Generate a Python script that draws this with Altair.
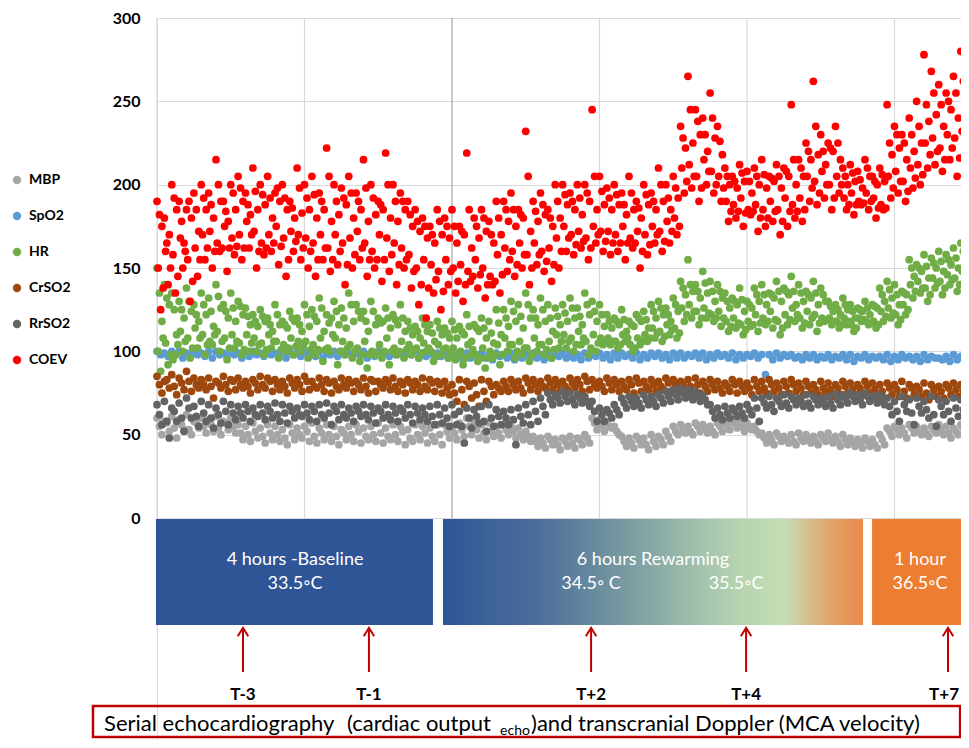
import altair as alt
import pandas as pd

SERIES = ["MBP", "SpO2", "HR", "CrSO2", "RrSO2", "COEV"]
COLORS = ["#a5a5a5", "#5b9bd5", "#70ad47", "#9e480e", "#636363", "#ff0000"]
STEP = 50  # samples between two readings of one list

# ---------------- readings ----------------
mbp_a = [60,58,61,59,62,58,60,59,61,58,60,
         56,55,57,54,56,55,53,56,54,55,57,54,56,55,53,55,56,54,55,57,54,56,55,53,56,55,54,56,
         56,55,57,60,58,56,57,55,
         56,55,54,52,
         49,48,49,47,48,49,48,50,
         60,59,58,55,
         49,48,49,48,50,49,52,
         55,56,55,57,56,55,57,
         58,59,58,57,55,
         51,50,51,49,50,51,50,49,50,51,49,50,48,
         47,48,47,50,
         54,55,54,56,55,54,55,56,55,54,56]
mbp_b = [50,52,48,53,50,54,51,52,50,53,51,
         47,46,48,45,47,46,44,47,48,46,45,47,46,44,47,46,45,47,46,45,47,46,44,46,47,45,46,44,
         48,47,49,50,48,47,49,48,
         50,48,47,46,
         43,42,44,41,43,42,44,45,
         53,52,54,50,
         43,42,44,41,43,44,46,
         50,51,50,52,51,50,52,
         53,54,52,53,50,
         45,44,46,45,44,46,45,44,46,45,43,44,43,
         42,43,42,44,
         49,50,48,51,50,49,51,50,48,50,51]
mbp_c = [55,57,54,56,53,57,55,56,54,57,55,
         51,50,52,49,51,50,48,51,50,52,49,51,50,49,51,50,52,49,50,51,49,50,52,48,50,51,49,50,
         52,51,53,55,53,51,52,51,
         53,52,50,49,
         46,45,47,44,46,45,47,48,
         57,56,55,52,
         46,45,47,44,46,47,49,
         52,53,52,55,54,52,55,
         56,57,55,55,52,
         48,47,49,47,46,48,47,46,48,47,46,47,46,
         45,46,44,47,
         52,53,51,54,52,51,53,53,51,52,54]

spo2_a = [100,99,100,100,99,100,99,100,100,99,100,99,100,100,99,100,99,100,100,99,
          100,99,100,99,100,100,99,99,100,99,100,99,100,99,99,100,99,100,99,
          99,98,99,99,98,99,98,99,98,99,99,98,99,98,99,98,99,99,98,99,
          98,99,98,99,99,98,99,98,99,99,98,99,
          99,98,99,99,98,99,98,99,98,98,99,98,98,99,98,98,97,98,98,97,
          98,97,98,98,97,98,97,97,98,97,98,97,97,98,97,96,97,98,97]
spo2_b = [98,97,98,96,97,98,97,96,98,97,98,96,97,98,97,98,97,96,98,97,
          98,97,96,98,97,98,97,98,96,97,98,97,98,97,98,96,97,98,97,
          96,97,95,96,97,96,95,97,96,95,96,97,96,95,96,97,96,96,95,96,
          97,96,95,96,97,96,95,96,97,96,95,96,
          96,97,96,95,96,97,96,95,96,97,96,86,95,96,97,96,95,96,95,96,
          95,96,95,94,96,95,96,95,94,95,96,95,94,95,96,95,94,95,96]

hr_a = [150,140,135,
        130,138,128,135,132,140,128,135,130,126,
        122,125,120,128,118,124,120,
        128,125,132,122,130,126,135,128,124,130,120,126,122,128,
        118,115,120,116,118,114,
        118,115,122,116,120,118,125,
        125,130,128,135,125,132,128,126,
        128,132,126,135,130,128,
        122,120,125,118,122,124,
        128,130,126,132,
        142,155,140,148,142,140,
        135,132,138,130,
        138,140,135,142,138,145,140,136,142,138,
        130,128,132,128,126,130,128,
        138,142,140,136,
        155,152,158,156,160,158,162,165]
hr_b = [118,128,110,
        120,124,118,122,115,126,120,118,122,116,
        115,118,112,116,114,118,112,
        115,118,112,120,116,114,118,120,112,116,118,114,116,112,
        110,108,112,106,110,108,
        108,110,106,112,108,105,110,
        115,118,114,120,116,118,112,116,
        118,120,116,122,118,115,
        114,116,112,115,118,114,
        120,122,118,124,
        134,136,132,135,130,132,
        126,128,124,126,
        130,128,132,130,134,128,130,132,128,130,
        124,122,125,120,124,122,126,
        130,132,128,134,
        145,148,144,150,148,152,150,155]
hr_c = [100,105,95,
        112,108,114,110,106,112,108,110,105,110,
        108,105,110,106,104,108,106,
        106,104,108,102,108,106,104,102,106,100,104,108,102,106,
        104,102,105,100,104,102,
        102,100,104,98,102,100,104,
        108,104,106,102,108,104,106,110,
        110,108,112,106,110,108,
        108,106,110,104,108,110,
        114,112,116,114,
        126,128,124,126,122,124,
        118,120,116,118,
        122,120,124,118,122,126,120,124,122,120,
        120,118,120,116,120,118,118,
        124,126,122,128,
        140,142,138,144,142,146,144,148]
hr_d = [88,92,98,
        100,96,102,98,104,100,95,102,98,100,
        100,98,102,96,100,98,100,
        96,98,94,100,92,98,96,94,90,98,96,92,98,96,
        98,96,100,94,98,96,
        95,92,98,94,90,96,92,
        100,96,98,94,100,98,96,102,
        102,100,104,98,100,104,
        104,102,106,100,104,106,
        108,106,110,108,
        118,120,116,120,118,115,
        112,114,110,115,
        112,116,114,110,116,118,114,116,112,118,
        116,114,116,112,118,116,114,
        118,120,116,122,
        132,135,130,138,134,140,136,142]
hr_e = [135,132,125,
        125,130,122,128,124,133,124,126,127,121,
        118,121,116,122,116,120,116,
        122,121,126,117,124,120,128,124,118,124,117,120,119,120,
        114,112,116,111,114,111,
        113,112,115,114,114,111,117,
        120,124,121,128,120,125,120,121,
        123,126,121,128,124,122,
        118,118,119,116,120,119,
        124,126,122,128,
        138,140,136,141,136,136,
        130,130,131,128,
        134,134,134,136,136,136,135,134,135,134,
        127,125,128,124,125,126,127,
        134,137,134,135,
        150,150,151,153,154,155,156,160]
hr_f = [108,98,104,
        106,102,108,104,110,106,102,106,101,105,
        104,101,106,101,102,103,103,
        101,101,101,110,100,102,100,98,98,99,100,100,100,101,
        101,99,102,97,101,99,
        98,96,101,96,96,98,98,
        104,100,102,98,104,101,101,106,
        106,104,108,102,105,106,
        106,104,108,102,106,108,
        111,109,113,111,
        122,124,120,123,120,120,
        115,117,113,116,
        117,118,119,114,119,122,117,120,117,119,
        118,116,118,114,119,117,116,
        121,123,119,125,
        136,138,134,141,138,143,140,145]

crso2_a = [85,82,86,84,88,84,
           83,84,82,85,83,84,82,83,85,84,83,82,84,83,85,82,84,83,82,84,
           83,82,84,83,82,83,84,82,83,82,84,83,82,
           82,80,83,82,81,83,82,80,
           82,83,82,84,83,82,84,83,82,84,83,85,83,82,84,83,82,83,84,82,83,82,84,83,
           82,83,84,82,83,82,81,83,82,81,83,82,83,81,82,83,81,82,80,82,
           81,80,82,81,80,82,81,80,81,80,82,80,79,81,80,79,80,81,80]
crso2_b = [75,78,74,77,76,78,
           77,72,78,76,77,78,75,77,78,76,77,75,78,76,77,78,76,75,77,78,
           76,77,75,76,78,77,76,75,77,76,77,76,75,
           74,70,68,72,67,70,74,76,
           76,77,75,77,76,78,77,76,77,78,76,77,78,76,77,76,77,75,76,77,76,77,76,75,
           77,76,75,76,77,75,76,75,76,74,76,75,76,74,75,76,74,75,74,75,
           73,74,75,73,74,75,73,72,74,73,72,74,73,71,73,72,74,73,72]
crso2_c = [80,83,79,81,82,80,
           80,79,81,80,82,80,79,81,80,82,80,79,81,80,82,79,80,81,79,80,
           81,80,79,82,80,81,79,80,81,80,79,81,80,
           78,75,77,79,74,76,79,78,
           79,80,78,81,80,79,81,80,79,81,80,82,80,79,81,80,79,80,81,79,80,79,81,80,
           80,79,80,79,80,78,79,80,79,78,79,78,80,78,79,80,78,79,77,78,
           77,78,79,77,78,79,77,76,78,77,76,78,77,75,77,76,78,77,76]

rrso2_a = [68,70,66,69,72,67,70,68,66,70,68,
           67,68,66,68,67,69,68,67,66,68,67,68,69,67,68,66,67,68,67,66,68,67,66,68,67,66,67,68,
           66,68,64,66,65,67,68,65,
           64,65,66,68,70,72,
           75,74,76,75,74,73,70,
           66,65,68,
           72,73,72,74,73,74,76,
           77,78,77,76,74,
           68,66,67,66,67,68,72,
           72,73,72,74,73,72,74,73,72,73,74,
           74,75,74,75,73,74,
           72,70,73,71,72,70,73,71,70,72,71]
rrso2_b = [56,48,58,52,60,55,58,54,57,56,59,
           60,58,61,59,60,58,57,60,61,59,58,60,56,59,60,58,61,59,57,60,59,58,60,57,59,58,56,57,
           55,56,45,54,57,52,55,56,
           56,44,57,56,58,62,
           68,69,70,68,69,67,58,
           58,60,62,
           66,67,66,68,67,69,70,
           71,72,71,70,68,
           60,59,60,61,60,62,58,
           66,64,67,66,68,67,66,68,67,66,68,
           69,70,68,70,69,68,
           62,58,64,56,63,60,55,62,58,61,60]
rrso2_c = [62,58,64,60,66,61,63,60,62,64,63,
           63,64,62,63,64,62,63,64,62,63,64,62,63,64,62,63,64,62,63,64,62,63,64,62,63,62,61,62,
           60,62,55,60,61,58,60,61,
           60,59,61,62,64,67,
           71,72,73,71,72,70,64,
           62,63,65,
           69,70,69,71,70,72,73,
           74,75,74,73,71,
           64,62,63,64,63,65,66,
           69,68,70,69,71,70,69,71,70,69,71,
           72,73,71,73,72,71,
           67,64,68,63,67,65,62,67,64,66,65]

coev_a = [190,180,200,190,185,195,
          200,195,215,190,200,205,195,210,200,205,195,200,190,210,
          200,205,195,222,200,198,205,195,215,200,190,219,200,195,
          190,185,180,175,185,
          180,185,175,219,180,185,178,190,
          190,195,185,232,190,195,185,200,
          200,195,200,200,245,205,
          198,200,195,205,190,200,195,210,200,205,
          235,265,245,240,255,235,
          210,205,212,208,
          210,215,205,212,210,248,215,
          225,262,230,225,235,
          210,212,208,215,205,210,
          248,235,230,240,250,
          278,268,260,255,265,280]
coev_b = [175,170,185,165,180,172,
          185,180,190,178,185,190,182,185,188,180,190,185,180,183,
          185,180,185,178,182,188,180,185,178,182,185,180,178,185,
          175,172,168,165,170,
          168,165,170,162,168,172,165,170,
          178,175,180,172,178,182,175,180,
          188,185,182,190,185,188,
          185,188,182,185,180,188,185,190,185,192,
          222,225,230,220,228,218,
          200,198,202,195,
          200,198,202,198,205,200,205,
          215,218,212,220,215,
          200,202,198,205,200,202,
          218,222,215,220,225,
          238,242,235,245,240,248]
coev_c = [150,160,158,168,155,162,
          170,172,165,175,168,170,178,172,165,170,175,168,172,170,
          168,165,170,162,170,165,168,172,165,160,170,168,165,162,
          158,150,155,152,148,
          155,150,152,148,155,150,145,158,
          162,160,165,158,165,160,162,168,
          175,170,172,168,175,172,
          172,170,175,168,172,170,175,172,178,180,
          210,212,205,215,208,205,
          190,188,192,185,
          188,185,190,185,192,188,192,
          205,202,208,200,205,
          192,195,190,195,192,188,
          205,208,202,210,212,
          225,228,222,230,228,232]
coev_d = [125,140,135,150,130,145,
          155,150,160,148,158,155,162,150,158,160,152,145,160,155,
          150,145,155,148,152,140,150,155,145,150,142,148,140,150,
          138,128,120,135,125,
          140,135,130,142,138,132,140,135,
          148,145,150,140,152,148,142,150,
          160,158,162,155,165,160,
          158,160,155,162,150,158,165,160,165,170,
          195,198,190,200,195,190,
          178,180,175,182,
          172,175,178,170,175,180,178,
          190,188,192,185,195,
          185,182,188,185,180,185,
          192,195,190,198,200,
          210,212,208,215,205,215]
coev_e = [182,165,192,178,190,185,
          192,188,200,184,195,198,188,196,194,192,198,192,186,198,
          192,194,190,205,190,192,195,190,198,192,188,200,190,190,
          182,178,175,170,178,
          175,175,172,185,175,180,170,180,
          185,185,182,205,184,188,180,190,
          194,190,192,195,205,196,
          192,194,188,195,186,194,190,200,192,198,
          228,245,238,230,240,226,
          205,202,207,202,
          205,206,204,205,208,215,210,
          220,235,220,222,225,
          205,207,203,210,202,206,
          225,230,225,230,235,
          248,255,248,250,255,262]
coev_f = [138,150,145,160,142,155,
          162,160,162,162,163,162,170,160,162,165,163,155,166,162,
          160,155,162,155,160,152,158,162,155,155,155,158,152,155,
          148,140,138,143,136,
          148,142,140,145,146,140,142,146,
          155,152,158,150,158,154,152,160,
          168,164,166,162,170,166,
          165,165,165,165,160,164,170,166,172,175,
          202,205,198,208,200,198,
          184,184,183,184,
          180,180,184,178,184,184,185,
          198,195,200,192,200,
          188,188,189,190,186,186,
          198,202,196,204,206,
          218,220,215,222,216,224]

series_lists = [
    ("MBP", [mbp_a, mbp_c, mbp_b]),
    ("SpO2", [spo2_a, spo2_b]),
    ("HR", [hr_a, hr_c, hr_e, hr_d, hr_b, hr_f]),
    ("CrSO2", [crso2_a, crso2_c, crso2_b]),
    ("RrSO2", [rrso2_a, rrso2_c, rrso2_b]),
    ("COEV", [coev_a, coev_c, coev_e, coev_d, coev_b, coev_f]),
]

recs = []
for name, lists in series_lists:
    for r, vals in enumerate(lists):
        assert len(vals) == 110, (name, r, len(vals))
        shift = r * STEP / len(lists)
        for i, v in enumerate(vals):
            recs.append({"sample": i * STEP + shift, "value": v, "series": name})
df = pd.DataFrame(recs)

# ---------------- annotation texts ----------------
PHASE_LABELS = ["4 hours -Baseline", "6 hours Rewarming", "1 hour"]
PHASE_X = [936, 3363, 5173]
TEMP_LABELS = ["33.5\u25e6C", "34.5\u25e6 C", "35.5\u25e6C", "36.5\u25e6C"]
TEMP_X = [936, 2943, 3926, 5173]
TIMEPOINTS = ["T-3", "T-1", "T+2", "T+4", "T+7"]
TIMEPOINT_X = [583, 1437, 2943, 3994, 5363]
TIMEPOINT_LABEL_X = [583, 1437, 2943, 3994, 5336]
GRID_X = [0, 1000, 3000, 4000, 5000]
GRID_X_DARK = [2000]

X_MAX = 5451
Y_MIN = -133.2
X = alt.Scale(domain=[0, X_MAX], nice=False, zero=False)
Y = alt.Scale(domain=[Y_MIN, 300], nice=False, zero=False)
Y_AXIS = alt.Axis(values=[0, 50, 100, 150, 200, 250, 300], grid=True, gridColor="#d9d9d9",
                  gridWidth=1.2, domain=False, ticks=False, tickSize=0, labelFontSize=16,
                  labelFontWeight="bold", labelColor="black", labelPadding=17, title=None,
                  labelFont="Lato")


def xe(f):
    return alt.X(f, type="quantitative", scale=X, axis=None)


def ye(f):
    return alt.Y(f, type="quantitative", scale=Y, axis=Y_AXIS)


vg = pd.DataFrame({"x": GRID_X, "y0": 0, "y1": 300})
vgrid = alt.Chart(vg).mark_rule(color="#d9d9d9", strokeWidth=1.2).encode(
    x=xe("x"), y=ye("y0"), y2="y1")
vgd = pd.DataFrame({"x": GRID_X_DARK, "y0": 0, "y1": 300})
vgrid_dark = alt.Chart(vgd).mark_rule(color="#a6a6a6", strokeWidth=1.2).encode(
    x=xe("x"), y=ye("y0"), y2="y1")

points = alt.Chart(df).mark_circle(size=60, opacity=1).encode(
    x=xe("sample"),
    y=ye("value"),
    color=alt.Color("series:N", scale=alt.Scale(domain=SERIES, range=COLORS), sort=SERIES,
                    legend=alt.Legend(orient="none", legendX=-147, legendY=155, title=None,
                                      symbolType="circle", symbolSize=70, labelFontSize=14,
                                      labelFontWeight="bold", labelColor="black", labelFont="Lato",
                                      rowPadding=22, labelOffset=5, padding=0)),
)

boxes = pd.DataFrame({"x": [-7, 4848], "x2": [1871, X_MAX], "y": [-0.6, -0.6],
                      "y2": [-64.2, -64.2], "c": ["#2f5597", "#ed7d31"]})
solid = alt.Chart(boxes).mark_rect().encode(
    x=xe("x"), x2="x2", y=ye("y"), y2="y2", fill=alt.Fill("c:N", scale=None))

grad = alt.Gradient(gradient="linear", x1=0, x2=1, y1=0, y2=0, stops=[
    alt.GradientStop(color="#2f5597", offset=0),
    alt.GradientStop(color="#4d6f9b", offset=0.23),
    alt.GradientStop(color="#6b8d9e", offset=0.374),
    alt.GradientStop(color="#86a7a5", offset=0.493),
    alt.GradientStop(color="#a3c2ac", offset=0.612),
    alt.GradientStop(color="#b6d4b0", offset=0.707),
    alt.GradientStop(color="#c3deb3", offset=0.814),
    alt.GradientStop(color="#d6bd8c", offset=0.874),
    alt.GradientStop(color="#e4a066", offset=0.933),
    alt.GradientStop(color="#ea8a4a", offset=1),
])
gbox = pd.DataFrame({"x": [1939], "x2": [4787], "y": [-0.6], "y2": [-64.2]})
gradient_box = alt.Chart(gbox).mark_rect(fill=grad).encode(
    x=xe("x"), x2="x2", y=ye("y"), y2="y2")

phase_df = pd.DataFrame({"x": PHASE_X, "y": -25.2, "t": PHASE_LABELS})
phase_text = alt.Chart(phase_df).mark_text(color="white", fontSize=18, font="Lato").encode(
    x=xe("x"), y=ye("y"), text="t:N")
temp_df = pd.DataFrame({"x": TEMP_X, "y": -39.6, "t": TEMP_LABELS})
temp_text = alt.Chart(temp_df).mark_text(color="white", fontSize=18, font="Lato").encode(
    x=xe("x"), y=ye("y"), text="t:N")

arrow_df = pd.DataFrame({"x": TIMEPOINT_X, "y0": -92.4, "y1": -67.2, "head": -68.4})
shafts = alt.Chart(arrow_df).mark_rule(color="#c00000", strokeWidth=2).encode(
    x=xe("x"), y=ye("y0"), y2="y1")
heads = alt.Chart(arrow_df).mark_point(
    shape="M-1,0.8L0,-0.8L1,0.8", size=110, filled=False, stroke="#c00000", strokeWidth=2,
    opacity=1).encode(x=xe("x"), y=ye("head"))

tp_df = pd.DataFrame({"x": TIMEPOINT_LABEL_X, "y": -106.2, "t": TIMEPOINTS})
tp_text = alt.Chart(tp_df).mark_text(color="black", fontSize=17, fontWeight="bold",
                                     font="Lato").encode(x=xe("x"), y=ye("y"), text="t:N")

frame_df = pd.DataFrame({"x": [-434], "x2": [5445], "y": [-112.8], "y2": [-131.4]})
frame = alt.Chart(frame_df).mark_rect(fill="transparent", stroke="#c00000",
                                      strokeWidth=2.5).encode(
    x=xe("x"), x2="x2", y=ye("y"), y2="y2")

CAPTION = ["Serial echocardiography", "(cardiac output", "echo",
           ")and transcranial Doppler (MCA velocity)"]
CAPTION_X = [-359, 1288, 2326, 2536]
CAPTION_Y = [-123.6, -123.6, -127.8, -123.6]
CAPTION_SIZE = [22, 22, 14, 22]
cap_layers = []
for t, cx, cy, cs in zip(CAPTION, CAPTION_X, CAPTION_Y, CAPTION_SIZE):
    cdf = pd.DataFrame({"x": [cx], "y": [cy], "t": [t]})
    cap_layers.append(alt.Chart(cdf).mark_text(color="black", fontSize=cs, font="Lato",
                                               align="left").encode(
        x=xe("x"), y=ye("y"), text="t:N"))

chart = alt.layer(vgrid, vgrid_dark, solid, gradient_box, phase_text, temp_text, shafts, heads,
                  tp_text, frame, *cap_layers, points).properties(
    width=804, height=722,
    padding={"left": 149, "top": 10, "right": 0, "bottom": 0},
    autosize=alt.AutoSizeParams(type="none"),
).configure_view(stroke="transparent").configure(font="Lato")

chart.save("out.html", embed_options={"renderer": "svg", "actions": False})
